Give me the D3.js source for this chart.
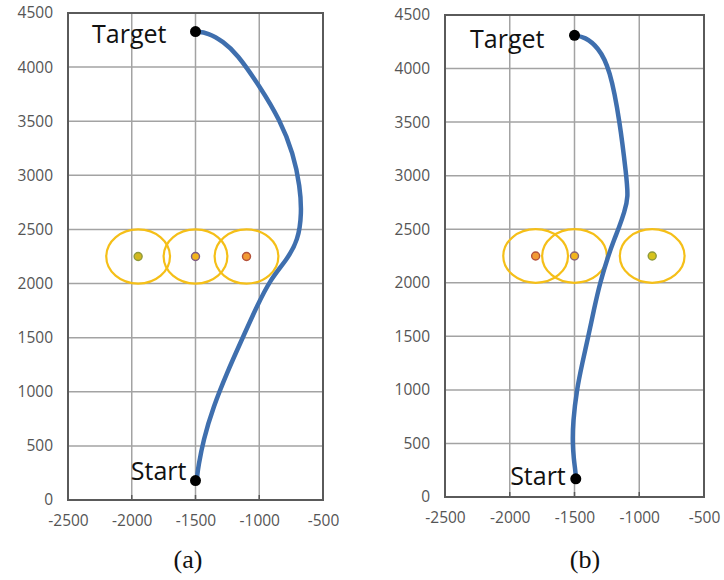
<!DOCTYPE html>
<html>
<head>
<meta charset="utf-8">
<script src="https://cdn.jsdelivr.net/npm/d3@7"></script>
<style>
  html, body { margin: 0; padding: 0; background: #ffffff; }
  svg { display: block; }
</style>
</head>
<body>
<svg id="chart" width="724" height="580"></svg>
<script>
// ---------- data ----------
const xTicks = [-2500, -2000, -1500, -1000, -500];
const yTicks = [0, 500, 1000, 1500, 2000, 2500, 3000, 3500, 4000, 4500];
const panelCaptions = ["(a)", "(b)"];

// trajectory (a), start -> target
const pathA_x = [-1490, -1486, -1478, -1439, -1360, -1255, -1138, -1020, -916, -785, -694, -667, -680, -733, -837, -994, -1177, -1282, -1400, -1500];
const pathA_y = [180, 230, 308, 554, 862, 1171, 1478, 1786, 2033, 2218, 2402, 2649, 2895, 3203, 3511, 3819, 4127, 4235, 4318, 4328];

// trajectory (b), start -> target
const pathB_x = [-1488, -1495, -1505, -1515, -1512, -1483, -1440, -1393, -1350, -1303, -1240, -1195, -1155, -1115, -1084, -1100, -1149, -1226, -1318, -1420, -1500];
const pathB_y = [175, 260, 350, 500, 700, 1000, 1250, 1500, 1750, 2000, 2250, 2400, 2520, 2660, 2800, 3000, 3500, 4000, 4200, 4295, 4310];

// start / target points
const startA = [-1500, 180];
const targetA = [-1500, 4328];
const startB = [-1490, 170];
const targetB = [-1500, 4310];

// obstacles (centre x, shared y, radius)
const obstaclesA_x = [-1950, -1500, -1100];
const obstaclesB_x = [-1800, -1500, -900];
const obstacle_y = 2250;
const obstacle_r = 250;
const obstaclesA_fill = ["#d2b820", "#f2b41c", "#f29a34"];
const obstaclesA_edge = ["#8f9a3c", "#7d5c86", "#b4523c"];
const obstaclesB_fill = ["#f29a34", "#f2b41c", "#d6c21c"];
const obstaclesB_edge = ["#b4523c", "#8a6478", "#8f9a3c"];

// ---------- drawing ----------
const svg = d3.select("#chart");

const panels = [
  { px: pathA_x, py: pathA_y, start: startA, target: targetA, ox: obstaclesA_x,
    fill: obstaclesA_fill, edge: obstaclesA_edge,
    xr: [68, 323], yr: [500, 13], caption: panelCaptions[0], capX: 188,
    tOff: [-29, 11], sOff: [-9, -1] },
  { px: pathB_x, py: pathB_y, start: startB, target: targetB, ox: obstaclesB_x,
    fill: obstaclesB_fill, edge: obstaclesB_edge,
    xr: [445, 704], yr: [497, 15], caption: panelCaptions[1], capX: 585,
    tOff: [-30, 13], sOff: [-10, 6] }
];

panels.forEach(p => {
  const x = d3.scaleLinear().domain([-2500, -500]).range(p.xr);
  const y = d3.scaleLinear().domain([0, 4500]).range(p.yr);
  const g = svg.append("g");

  // grid
  g.append("g").selectAll("line").data(xTicks).join("line")
    .attr("x1", d => x(d)).attr("x2", d => x(d))
    .attr("y1", y(0)).attr("y2", y(4500))
    .attr("stroke", "#a3a3a3").attr("stroke-width", 1.5);
  g.append("g").selectAll("line").data(yTicks).join("line")
    .attr("x1", x(-2500)).attr("x2", x(-500))
    .attr("y1", d => y(d)).attr("y2", d => y(d))
    .attr("stroke", "#a3a3a3").attr("stroke-width", 1.5);

  // frame
  g.append("rect")
    .attr("x", x(-2500)).attr("y", y(4500))
    .attr("width", x(-500) - x(-2500)).attr("height", y(0) - y(4500))
    .attr("fill", "none").attr("stroke", "#5a5a5a").attr("stroke-width", 2);

  // small inner ticks at bottom
  g.append("g").selectAll("line").data(xTicks).join("line")
    .attr("x1", d => x(d)).attr("x2", d => x(d))
    .attr("y1", y(0)).attr("y2", y(0) - 5)
    .attr("stroke", "#5a5a5a").attr("stroke-width", 1.5);

  // axes labels
  const fmt = d => String(d);
  const xAxis = d3.axisBottom(x).tickValues(xTicks).tickSize(0).tickPadding(15).tickFormat(fmt);
  const gx = g.append("g").attr("transform", `translate(0,${y(0)})`).call(xAxis);
  gx.select(".domain").remove();
  gx.selectAll("text").attr("font-family", "'Open Sans', sans-serif")
    .attr("font-size", 15.5).attr("fill", "#555");

  const yAxis = d3.axisLeft(y).tickValues(yTicks).tickSize(0).tickPadding(15).tickFormat(fmt);
  const gy = g.append("g").attr("transform", `translate(${x(-2500)},0)`).call(yAxis);
  gy.select(".domain").remove();
  gy.selectAll("text").attr("font-family", "'Open Sans', sans-serif")
    .attr("font-size", 15.5).attr("fill", "#555");

  // obstacles
  const ob = g.append("g");
  ob.selectAll("ellipse").data(p.ox).join("ellipse")
    .attr("cx", d => x(d)).attr("cy", y(obstacle_y))
    .attr("rx", x(-2500 + obstacle_r) - x(-2500))
    .attr("ry", y(0) - y(obstacle_r))
    .attr("fill", "none").attr("stroke", "#f5bf18").attr("stroke-width", 2.2);
  ob.selectAll("circle").data(p.ox).join("circle")
    .attr("cx", d => x(d)).attr("cy", y(obstacle_y)).attr("r", 4)
    .attr("fill", (d, i) => p.fill[i]).attr("stroke", (d, i) => p.edge[i])
    .attr("stroke-width", 1.4);

  // trajectory
  const pts = p.px.map((v, i) => [v, p.py[i]]);
  const line = d3.line().x(d => x(d[0])).y(d => y(d[1])).curve(d3.curveBasis);
  g.append("path").datum(pts).attr("d", line)
    .attr("fill", "none").attr("stroke", "#3f6fae").attr("stroke-width", 4.5)
    .attr("stroke-linecap", "round");

  // start / target
  [p.start, p.target].forEach(pt => {
    g.append("circle").attr("cx", x(pt[0])).attr("cy", y(pt[1])).attr("r", 5.5).attr("fill", "#000");
  });
  g.append("text").attr("x", x(p.target[0]) + p.tOff[0]).attr("y", y(p.target[1]) + p.tOff[1])
    .attr("text-anchor", "end").attr("font-family", "'Open Sans', sans-serif")
    .attr("font-size", 25).attr("fill", "#111").text("Target");
  g.append("text").attr("x", x(p.start[0]) + p.sOff[0]).attr("y", y(p.start[1]) + p.sOff[1])
    .attr("text-anchor", "end").attr("font-family", "'Open Sans', sans-serif")
    .attr("font-size", 25).attr("fill", "#111").text("Start");

  // caption
  svg.append("text").attr("x", p.capX).attr("y", 568).attr("text-anchor", "middle")
    .attr("font-family", "'Liberation Serif', 'Times New Roman', serif")
    .attr("font-size", 26).attr("fill", "#111").text(p.caption);
});
</script>
</body>
</html>
